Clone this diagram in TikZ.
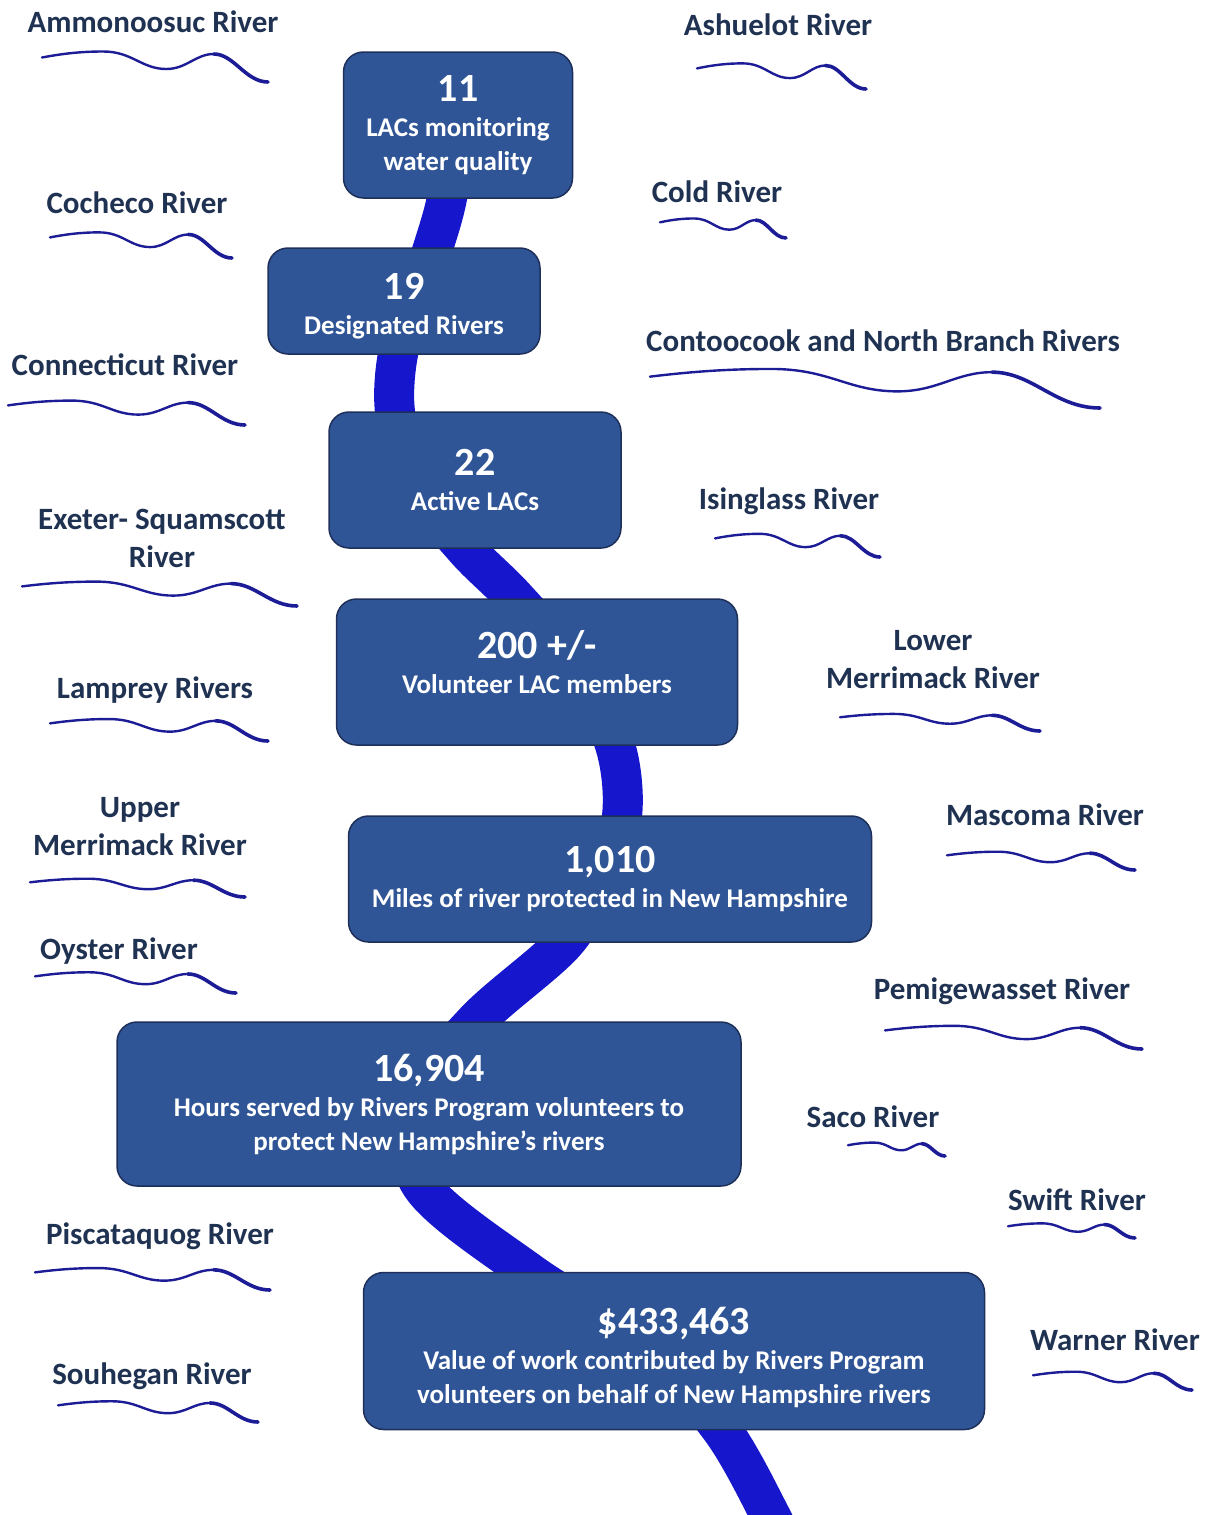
\documentclass[tikz,border=0pt]{standalone}
\usepackage{fontspec}
\setmainfont{Carlito}
\usetikzlibrary{backgrounds}

\definecolor{boxblue}{RGB}{47,85,151}
\definecolor{boxedge}{RGB}{30,48,90}
\definecolor{riverblue}{RGB}{22,22,204}
\definecolor{wavecol}{RGB}{28,28,150}
\definecolor{labelcol}{RGB}{32,50,82}

\tikzset{
  statbox/.style={draw=boxedge, line width=1.5pt, fill=boxblue, rounded corners=20pt,
    text=white, align=center, inner sep=0pt, font=\bfseries\fontsize{27}{34}\selectfont},
  rivername/.style={text=labelcol, align=center, font=\bfseries\fontsize{31}{38}\selectfont},
  mainriver/.style={draw=riverblue, line width=40pt},
  wave/.style={draw=wavecol, line width=2.4pt, line cap=round},
}

% big figure on top of each box
\newcommand{\bignum}[1]{{\fontsize{40}{34}\selectfont #1}\\[1pt]}
% small river squiggle: x, y, width, drop
\newcommand{\riverwave}[4]{%
  \begin{scope}[shift={(#1,#2)}, xscale=#3, yscale=#4]
    \draw[wave] (0,0.02) .. controls (0.1,-0.15) and (0.18,-0.22) .. (0.27,-0.22)
      .. controls (0.4,-0.22) and (0.44,0.48) .. (0.55,0.48)
      .. controls (0.64,0.48) and (0.68,-0.12) .. (0.76,-0.12);
    \draw[wave, line width=3.6pt] (0.76,-0.12) .. controls (0.85,-0.12) and (0.9,1) .. (1,1);
  \end{scope}}

\begin{document}
\begin{tikzpicture}[x=1pt, y=-1pt]
    \useasboundingbox (0,0) rectangle (1213,1515);
    \clip (0,0) rectangle (1213,1515);

    % Stat boxes
    \node[statbox, minimum width=229pt, minimum height=146pt] (lacs) at (458,125)
        {\bignum{11}LACs monitoring\\water quality};
    \node[statbox, minimum width=272pt, minimum height=106pt] (designated) at (404,301)
        {\rule{0pt}{36pt}\bignum{19}Designated Rivers};
    \node[statbox, minimum width=292pt, minimum height=136pt] (active) at (475,480)
        {\bignum{22}Active LACs};
    \node[statbox, minimum width=401pt, minimum height=146pt] (members) at (537,672)
        {\bignum{200 +/-}Volunteer LAC members\rule[-21pt]{0pt}{21pt}};
    \node[statbox, minimum width=523pt, minimum height=126pt] (miles) at (610,879)
        {\bignum{1,010}Miles of river protected in New Hampshire};
    \node[statbox, minimum width=624pt, minimum height=164pt] (hours) at (429,1104)
        {\bignum{16,904}Hours served by Rivers Program volunteers to\\protect New Hampshire’s rivers};
    \node[statbox, minimum width=621pt, minimum height=157pt] (value) at (674,1351)
        {\rule{0pt}{40pt}\bignum{\$433,463}Value of work contributed by Rivers Program\\volunteers on behalf of New Hampshire rivers};

    % Main river behind the boxes
    \coordinate (mouth) at (790,1560);
    \begin{scope}[on background layer]
        \draw[mainriver] plot[smooth, tension=0.55] coordinates {
            (lacs.center) (447,198) (433,248) (415,301) (398,354) (395,412)
            (412,480) (465,548) (515,598) (578,672) (615,745) (622,816)
            (600,879) (565,942) (475,1022) (414,1104) (422,1186) (530,1273)
            (650,1351) (722,1430) (770,1515) (mouth)};
    \end{scope}

    % Left column of rivers
    \node[rivername] (ammonoosuc) at (153,22) {Ammonoosuc River};
    \riverwave{42}{57}{226}{25}
    \node[rivername] (cocheco) at (137,203) {Cocheco River};
    \riverwave{50}{237}{182}{21}
    \node[rivername] (connecticut) at (125,365) {Connecticut River};
    \riverwave{8}{405}{237}{20}
    \node[rivername] (exeter) at (162,538) {Exeter- Squamscott\\River};
    \riverwave{22}{586}{275}{20}
    \node[rivername] (lamprey) at (155,690) {Lamprey Rivers};
    \riverwave{50}{723}{218}{18}
    \node[rivername] (uppermerrimack) at (140,827) {Upper\\Merrimack River};
    \riverwave{30}{882}{215}{15}
    \node[rivername] (oyster) at (119,951) {Oyster River};
    \riverwave{35}{976}{201}{17}
    \node[rivername] (piscataquog) at (160,1236) {Piscataquog River};
    \riverwave{35}{1272}{235}{18}
    \node[rivername] (souhegan) at (152,1376) {Souhegan River};
    \riverwave{58}{1405}{200}{17}

    % Right column of rivers
    \node[rivername] (ashuelot) at (778,25) {Ashuelot River};
    \riverwave{697}{68}{169}{21}
    \node[rivername] (cold) at (717,192) {Cold River};
    \riverwave{660}{222}{126}{16}
    \node[rivername] (contoocook) at (883,341) {Contoocook and North Branch Rivers};
    \riverwave{650}{376}{450}{32}
    \node[rivername] (isinglass) at (789,501) {Isinglass River};
    \riverwave{715}{538}{165}{19}
    \node[rivername] (lowermerrimack) at (933,660) {Lower\\Merrimack River};
    \riverwave{840}{717}{200}{14}
    \node[rivername] (mascoma) at (1045,815) {Mascoma River};
    \riverwave{947}{855}{188}{15}
    \node[rivername] (pemigewasset) at (1002,991) {Pemigewasset River};
    \riverwave{885}{1030}{257}{19}
    \node[rivername] (saco) at (873,1117) {Saco River};
    \riverwave{848}{1145}{97}{11}
    \node[rivername] (swift) at (1077,1200) {Swift River};
    \riverwave{1008}{1226}{127}{12}
    \node[rivername] (warner) at (1115,1340) {Warner River};
    \riverwave{1033}{1375}{159}{15}

\end{tikzpicture}
\end{document}
